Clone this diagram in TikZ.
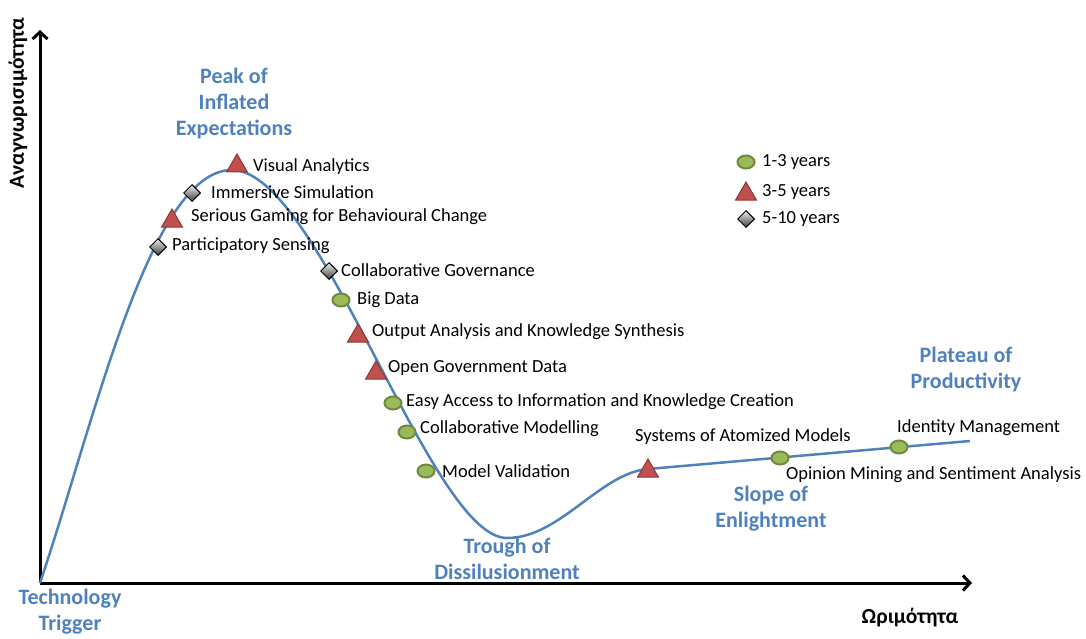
\documentclass[tikz,border=0pt]{standalone}
\usepackage{fontspec}
\setmainfont{Carlito}
\usetikzlibrary{shapes,arrows.meta,positioning}
\definecolor{mblue}{HTML}{4F81BD}
\definecolor{mgreen}{HTML}{9BBB59}
\definecolor{mgreend}{HTML}{71893F}
\definecolor{mred}{HTML}{C0504D}
\definecolor{mredd}{HTML}{8C3836}
\tikzstyle{l1}=[line width=2.5, draw=mblue]
\tikzstyle{axis}=[line width=3, -{Straight Barb[length=7pt,width=15pt,line width=3pt]}]
\tikzstyle{yrA}=[ellipse, draw=mgreend, fill=mgreen, line width=2, minimum width=17pt, minimum height=13pt, inner sep=0pt]
\tikzstyle{yrB}=[regular polygon, regular polygon sides=3, draw=mredd, fill=mred, line width=1, minimum size=24pt, inner sep=0pt]
\tikzstyle{yrC}=[diamond, draw=black, top color=gray!15, bottom color=black!75, line width=1, minimum size=17pt, inner sep=0pt]
\tikzstyle{lab}=[anchor=west, inner sep=0pt, font=\fontsize{18.5}{22}\selectfont]
\tikzstyle{phaselab}=[align=center, text=mblue, font=\bfseries\fontsize{22}{26}\selectfont]
\tikzstyle{axlab}=[font=\bfseries\fontsize{21.5}{24}\selectfont]

\begin{document}
\begin{tikzpicture}[x=1pt, y=-1pt]
    \useasboundingbox (0,0) rectangle (1086,639);

    % axes
    \coordinate (o) at (40,583);
    \coordinate (ytop) at (40,30);
    \coordinate (xend) at (972,583);
    \draw[axis] (o) -- (ytop);
    \draw[axis] (o) -- (xend);
    \node[axlab, rotate=90] (ylab) at (18,103) {Αναγνωρισιμότητα};
    \node[axlab] (xlab) at (910,618) {Ωριμότητα};

    % hype curve
    \coordinate (peakpt) at (232,170);
    \coordinate (troughpt) at (507,538);
    \coordinate (kneept) at (648,469);
    \coordinate (endpt) at (970,441);
    \draw[l1] (o) .. controls (95,420) and (150,170) .. (peakpt)
        .. controls (320,170) and (430,538) .. (troughpt)
        .. controls (560,538) and (600,473) .. (kneept) -- (endpt);

    % phases
    \node[phaselab] (trig) at (70,612) {Technology\\Trigger};
    \node[phaselab] (peak) at (234,104) {Peak of\\Inflated\\Expectations};
    \node[phaselab] (trough) at (507,559) {Trough of\\Dissilusionment};
    \node[phaselab] (slope) at (771,509) {Slope of\\Enlightment};
    \node[phaselab] (plat) at (966,370) {Plateau of\\Productivity};

    % technologies
    \node[yrC] (ps) at (158,247) {};
    \node[lab] (psl) at (172,246) {Participatory Sensing};
    \node[yrB] (sg) at (172,221) {};
    \node[lab] (sgl) at (191,217) {Serious Gaming for Behavioural Change};
    \node[yrC] (is) at (192,193) {};
    \node[lab] (isl) at (211,192) {Immersive Simulation};
    \node[yrB] (va) at (237,166) {};
    \node[lab] (val) at (253,167) {Visual Analytics};
    \node[yrC] (cg) at (329,271) {};
    \node[lab] (cgl) at (341,270) {Collaborative Governance};
    \node[yrA] (bd) at (341,300) {};
    \node[lab] (bdl) at (357,300) {Big Data};
    \node[yrB] (oa) at (358,336) {};
    \node[lab] (oal) at (372,332) {Output Analysis and Knowledge Synthesis};
    \node[yrB] (og) at (376,373) {};
    \node[lab] (ogl) at (388,368) {Open Government Data};
    \node[yrA] (ea) at (393,403) {};
    \node[lab] (eal) at (406,402) {Easy Access to Information and Knowledge Creation};
    \node[yrA] (cm) at (407,432) {};
    \node[lab] (cml) at (420,429) {Collaborative Modelling};
    \node[yrA] (mv) at (426,471) {};
    \node[lab] (mvl) at (442,471) {Model Validation};
    \node[yrB] (sa) at (648,471) {};
    \node[lab] (sal) at (635,437) {Systems of Atomized Models};
    \node[yrA] (om) at (780,458) {};
    \node[lab] (oml) at (786,475) {Opinion Mining and Sentiment Analysis};
    \node[yrA] (im) at (899,447) {};
    \node[lab] (iml) at (897,428) {Identity Management};

    % legend
    \node[yrA] (k1) at (746,162) {};
    \node[lab] (k1l) at (762,162) {1-3 years};
    \node[yrB] (k2) at (746,194) {};
    \node[lab] (k2l) at (762,192) {3-5 years};
    \node[yrC] (k3) at (746,219) {};
    \node[lab] (k3l) at (762,219) {5-10 years};
\end{tikzpicture}
\end{document}
